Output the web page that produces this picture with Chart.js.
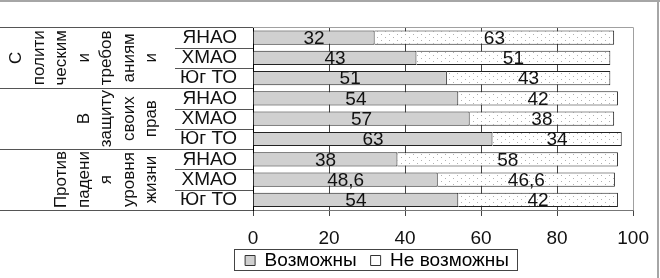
<!DOCTYPE html>
<html>
<head>
<meta charset="utf-8">
<script src="https://cdn.jsdelivr.net/npm/chart.js@4/dist/chart.umd.min.js"></script>
<style>
html,body{margin:0;padding:0;background:#fff;}
#wrap{width:660px;height:278px;position:relative;}
</style>
</head>
<body>
<div id="wrap"><canvas id="c" width="660" height="278"></canvas></div>
<script>
const categories = ["ЯНАО","ХМАО","Юг ТО","ЯНАО","ХМАО","Юг ТО","ЯНАО","ХМАО","Юг ТО"];
const possible = [32, 43, 51, 54, 57, 63, 38, 48.6, 54];
const notPossible = [63, 51, 43, 42, 38, 34, 58, 46.6, 42];
const seriesNames = ["Возможны", "Не возможны"];
const xTicks = [0, 20, 40, 60, 80, 100];
const groupLines = [
  ["С","полити","ческим","и","требов","аниям","и"],
  ["В","защиту","своих","прав"],
  ["Против","падени","я","уровня","жизни"]
];
const groupSize = 3;

const FONT = "'Liberation Sans', Arial, sans-serif";
const LEG_PAD = 14;

function makePattern(){
  const p = document.createElement('canvas');
  p.width = 8; p.height = 6;
  const g = p.getContext('2d');
  g.fillStyle = '#ffffff'; g.fillRect(0,0,8,6);
  g.fillStyle = '#b0b0b0';
  g.fillRect(1,1,1,1);
  g.fillRect(5,4,1,1);
  return g.createPattern(p, 'repeat');
}
const ctx0 = document.getElementById('c').getContext('2d');
const dotPattern = makePattern();

const fmt = v => String(v).replace('.', ',');

const decor = {
  id: 'decor',
  afterLayout(chart){
    if (chart.legend) { chart.legend.top -= 13; }
  },
  afterDatasetsDraw(chart){
    const ctx = chart.ctx;
    ctx.save();
    ctx.fillStyle = '#111';
    ctx.font = '19px ' + FONT;
    ctx.textAlign = 'center';
    ctx.textBaseline = 'middle';
    chart.data.datasets.forEach((ds, di) => {
      const meta = chart.getDatasetMeta(di);
      meta.data.forEach((el, i) => {
        const cx = (el.x + el.base) / 2;
        ctx.fillText(fmt(ds.data[i]), cx, el.y + 1);
      });
    });
    ctx.restore();
  },
  afterDraw(chart){
    const ctx = chart.ctx;
    const ca = chart.chartArea;
    ctx.save();
    // plot top border
    ctx.strokeStyle = '#a0a0a0';
    ctx.lineWidth = 1;
    ctx.beginPath();
    ctx.moveTo(ca.left, Math.round(ca.top) + 0.5);
    ctx.lineTo(ca.right, Math.round(ca.top) + 0.5);
    ctx.stroke();
    // label-area lines
    const n = categories.length;
    const rowH = (ca.bottom - ca.top) / n;
    ctx.strokeStyle = '#555';
    for (let i = 0; i <= n; i++) {
      const y = Math.round(ca.top + i * rowH) + 0.5;
      const x0 = (i % groupSize === 0) ? 0 : 175;
      ctx.beginPath();
      ctx.moveTo(x0, y);
      ctx.lineTo(ca.left, y);
      ctx.stroke();
    }
    // rotated group labels
    ctx.fillStyle = '#111';
    ctx.font = '17px ' + FONT;
    ctx.textAlign = 'center';
    ctx.textBaseline = 'alphabetic';
    groupLines.forEach((lines, g) => {
      const yc = ca.top + (g * groupSize + groupSize / 2) * rowH;
      const m = lines.length;
      lines.forEach((t, i) => {
        const bx = 156 - (m - 1 - i) * 22.5;
        ctx.save();
        ctx.translate(bx, yc);
        ctx.rotate(-Math.PI / 2);
        ctx.fillText(t, 0, 0);
        ctx.restore();
      });
    });
    // legend border
    const lg = chart.legend;
    if (lg && lg.legendHitBoxes && lg.legendHitBoxes.length) {
      const hb = lg.legendHitBoxes;
      const l = hb[0].left - 11, r = hb[hb.length - 1].left + hb[hb.length - 1].width + 8;
      const t = lg.top + LEG_PAD - 2, b = lg.top + LEG_PAD + hb[0].height;
      ctx.strokeStyle = '#444';
      ctx.strokeRect(Math.round(l) + 0.5, Math.round(t) + 0.5, Math.round(r - l), Math.round(b - t));
    }
    // outer frame (top, right)
    ctx.fillStyle = '#a6a6a6';
    ctx.fillRect(0, 0, 660, 2);
    ctx.fillRect(657, 0, 2, 278);
    ctx.restore();
  }
};

new Chart(ctx0, {
  type: 'bar',
  data: {
    labels: categories,
    datasets: [
      { label: seriesNames[0], data: possible, backgroundColor: '#d0d0d0', borderColor: '#222', borderWidth: 1,
        barPercentage: 0.7, categoryPercentage: 1.0 },
      { label: seriesNames[1], data: notPossible, backgroundColor: dotPattern, borderColor: '#222', borderWidth: 1,
        barPercentage: 0.7, categoryPercentage: 1.0 }
    ]
  },
  options: {
    indexAxis: 'y',
    responsive: false,
    animation: false,
    events: [],
    layout: { padding: { left: 119, right: 25, top: 11, bottom: 0 } },
    scales: {
      x: {
        stacked: true, min: 0, max: 100,
        afterBuildTicks: s => { s.ticks = xTicks.map(v => ({ value: v })); },
        afterFit: s => { s.height = 40; },
        ticks: { color: '#111', font: { size: 19, family: FONT }, padding: 11, maxRotation: 0 },
        grid: {
          color: c => (c.tick && c.tick.value === 100) ? '#a0a0a0' : (c.tick && c.tick.value === 0 ? 'rgba(0,0,0,0)' : '#444'),
          tickColor: '#444', tickLength: 6, lineWidth: 1
        },
        border: { color: '#777', width: 1 }
      },
      y: {
        stacked: true,
        afterFit: s => { s.width = 134; },
        ticks: { color: '#111', font: { size: 19, family: FONT }, padding: 16, autoSkip: false },
        grid: { display: false, drawTicks: false },
        border: { display: true, color: '#000', width: 1 }
      }
    },
    plugins: {
      legend: {
        position: 'bottom',
        maxHeight: 28,
        labels: {
          color: '#111', font: { size: 19, family: FONT },
          boxWidth: 10, boxHeight: 10, padding: LEG_PAD,
          generateLabels: chart => chart.data.datasets.map((ds, i) => ({
            text: ds.label, fillStyle: i === 0 ? '#d0d0d0' : '#ffffff', strokeStyle: '#333', lineWidth: 1,
            datasetIndex: i, hidden: false
          }))
        }
      },
      tooltip: { enabled: false }
    }
  },
  plugins: [decor]
});
</script>
</body>
</html>
